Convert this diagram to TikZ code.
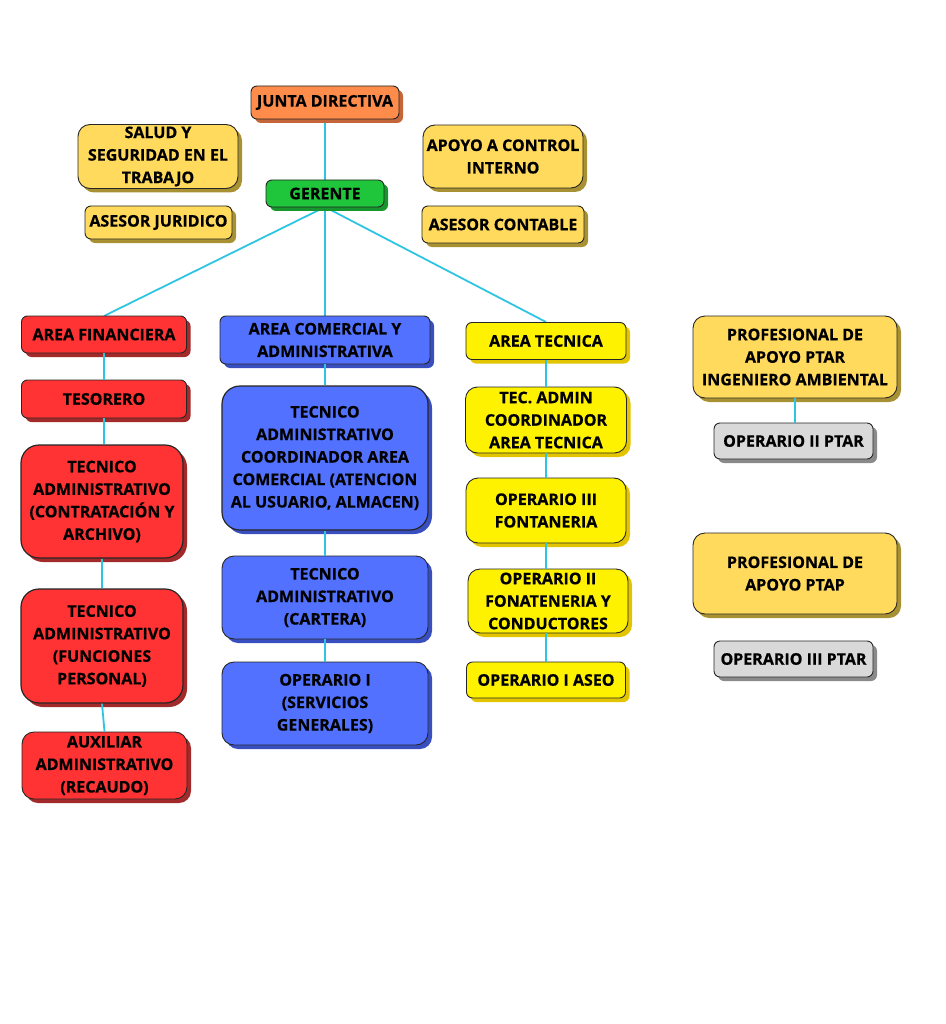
\documentclass[tikz,border=0pt]{standalone}
\usepackage{fontspec}
\setmainfont{Open Sans}[BoldFeatures={FakeBold=0.5}]
\usetikzlibrary{shadows}
\definecolor{cOrange}{HTML}{FF8C4B}\definecolor{sOrange}{HTML}{C4653A}
\definecolor{cGold}{HTML}{FFDA5C}\definecolor{sGold}{HTML}{A89132}
\definecolor{cGreen}{HTML}{1FC63B}\definecolor{sGreen}{HTML}{16962C}
\definecolor{cRed}{HTML}{FF3333}\definecolor{sRed}{HTML}{A32A2A}
\definecolor{cBlue}{HTML}{5271FF}\definecolor{sBlue}{HTML}{3A4FBF}
\definecolor{cYellow}{HTML}{FFF200}\definecolor{sYellow}{HTML}{E3C400}
\definecolor{cGray}{HTML}{D9D9D9}\definecolor{sGray}{HTML}{8A8A8A}
\definecolor{cLine}{HTML}{2EC5E2}
\tikzset{
  x=1pt,y=-1pt,
  box/.style={draw=black!85, line width=0.9pt, rounded corners=6pt, align=center,
    inner sep=0pt, font=\bfseries\fontsize{16}{22.5}\selectfont, text=black},
  sh/.style={general shadow={fill=#1, shadow xshift=4pt, shadow yshift=-4pt}},
  orangebox/.style={box, fill=cOrange, sh=sOrange},
  goldbox/.style={box, fill=cGold, sh=sGold},
  greenbox/.style={box, fill=cGreen, sh=sGreen},
  redbox/.style={box, fill=cRed, sh=sRed},
  bluebox/.style={box, fill=cBlue, sh=sBlue},
  yellowbox/.style={box, fill=cYellow, sh=sYellow},
  graybox/.style={box, fill=cGray, sh=sGray},
  big/.style={rounded corners=18pt, line width=1.2pt},
  mid/.style={rounded corners=12pt},
  conn/.style={draw=cLine, line width=1.8pt},
  wh/.style 2 args={minimum width=#1pt, minimum height=#2pt}
}
\begin{document}
\begin{tikzpicture}
\useasboundingbox (0,0) rectangle (945,1024);
% connectors (drawn first, behind boxes)
\coordinate (g) at (325,207);
\draw[conn] (325,119) -- (g);
\draw[conn] (g) -- (104,316);
\draw[conn] (g) -- (325,316);
\draw[conn] (g) -- (546,322);
% top
\node[orangebox, wh={148}{33}] (jd) at (325,102.5) {JUNTA DIRECTIVA};
\node[goldbox, mid, wh={160}{64}] (sst) at (158,156.5) {SALUD Y\\SEGURIDAD EN EL\\TRABAJO};
\node[goldbox, mid, wh={160}{63}] (aci) at (503,156.5) {APOYO A CONTROL\\INTERNO};
\node[greenbox, wh={118}{27}] (ger) at (325,193.5) {GERENTE};
\node[goldbox, wh={147}{33}] (aj) at (158.5,222.5) {ASESOR JURIDICO};
\node[goldbox, wh={162}{37}] (ac) at (503,224.5) {ASESOR CONTABLE};
% red column
\node[redbox, wh={165}{37}] (af) at (104,334.5) {AREA FINANCIERA};
\node[redbox, wh={165}{38}] (tes) at (104,399) {TESORERO};
\node[redbox, big, wh={162}{113}] (tc) at (102,501.5) {TECNICO\\ADMINISTRATIVO\\(CONTRATACIÓN Y\\ARCHIVO)};
\node[redbox, big, wh={162}{114}] (tf) at (102,646) {TECNICO\\ADMINISTRATIVO\\(FUNCIONES\\PERSONAL)};
\node[redbox, mid, wh={165}{67}] (aux) at (104.5,765.5) {AUXILIAR\\ADMINISTRATIVO\\(RECAUDO)};
% blue column
\node[bluebox, wh={210}{48}] (acom) at (325,340) {AREA COMERCIAL Y\\ADMINISTRATIVA};
\node[bluebox, big, wh={206}{144}] (tcoord) at (325,458) {TECNICO\\ADMINISTRATIVO\\COORDINADOR AREA\\COMERCIAL (ATENCION\\AL USUARIO, ALMACEN)};
\node[bluebox, mid, wh={206}{83}] (tcar) at (325,597.5) {TECNICO\\ADMINISTRATIVO\\(CARTERA)};
\node[bluebox, mid, wh={206}{83}] (op1) at (325,703.5) {OPERARIO I\\(SERVICIOS\\GENERALES)};
% yellow column
\node[yellowbox, wh={160}{37}] (at) at (546,341) {AREA TECNICA};
\node[yellowbox, mid, wh={161}{66}] (tec) at (546,420) {TEC. ADMIN\\COORDINADOR\\AREA TECNICA};
\node[yellowbox, mid, wh={160}{65}] (op3) at (546,510.5) {OPERARIO III\\FONTANERIA};
\node[yellowbox, mid, wh={160}{64}] (op2) at (548,601) {OPERARIO II\\FONATENERIA Y\\CONDUCTORES};
\node[yellowbox, wh={159}{36}] (opa) at (546,680) {OPERARIO I ASEO};
% right
\node[goldbox, mid, wh={204}{82}] (ptar) at (795,357) {PROFESIONAL DE\\APOYO PTAR\\INGENIERO AMBIENTAL};
\node[graybox, wh={159}{36}] (op2ptar) at (793.5,441) {OPERARIO II PTAR};
\node[goldbox, mid, wh={204}{81}] (ptap) at (795,573.5) {PROFESIONAL DE\\APOYO PTAP};
\node[graybox, wh={159}{36}] (op3ptar) at (793.5,659) {OPERARIO III PTAR};
% vertical connectors
\draw[conn] (af.south) -- (tes.north);
\draw[conn] (tes.south) -- (tes.south |- tc.north);
\draw[conn] (tc.south) -- (tf.north);
\draw[conn] (tf.south) -- (aux.north);
\draw[conn] (acom.south) -- (tcoord.north);
\draw[conn] (tcoord.south) -- (tcar.north);
\draw[conn] (tcar.south) -- (op1.north);
\draw[conn] (at.south) -- (tec.north);
\draw[conn] (tec.south) -- (op3.north);
\draw[conn] (op3.south) -- (op3.south |- op2.north);
\draw[conn] (opa.north |- op2.south) -- (opa.north);
\draw[conn] (ptar.south) -- (ptar.south |- op2ptar.north);
\end{tikzpicture}
\end{document}
